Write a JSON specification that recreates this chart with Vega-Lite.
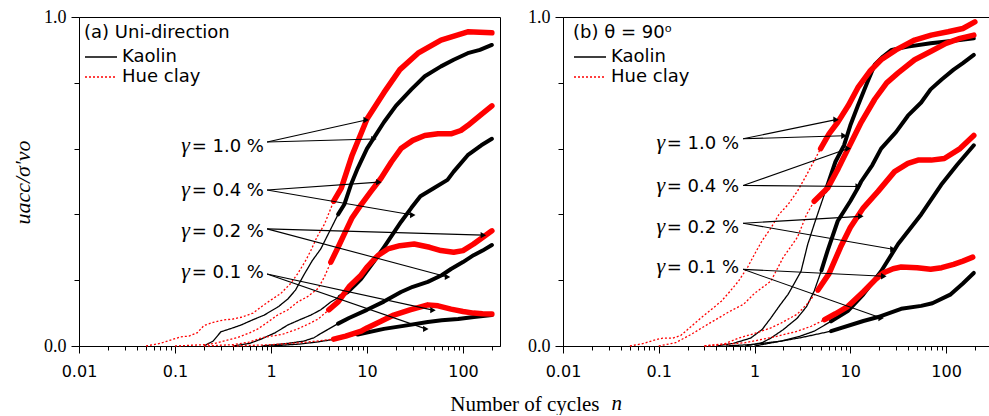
{
"$schema": "https://vega.github.io/schema/vega-lite/v6.json",
"background": "white",
"padding": {"left": 10, "top": 7, "right": 0, "bottom": 0},
"datasets": {
"curves": [
{"p":"a","clay":"Kaolin","g":"1.0","n":0.2,"v":0},{"p":"a","clay":"Kaolin","g":"1.0","n":0.25,"v":0.015},{"p":"a","clay":"Kaolin","g":"1.0","n":0.3,"v":0.043},{"p":"a","clay":"Kaolin","g":"1.0","n":0.4,"v":0.055},{"p":"a","clay":"Kaolin","g":"1.0","n":0.49,"v":0.064},{"p":"a","clay":"Kaolin","g":"1.0","n":0.65,"v":0.08},{"p":"a","clay":"Kaolin","g":"1.0","n":0.85,"v":0.094},{"p":"a","clay":"Kaolin","g":"1.0","n":1.2,"v":0.12},{"p":"a","clay":"Kaolin","g":"1.0","n":1.5,"v":0.143},{"p":"a","clay":"Kaolin","g":"1.0","n":1.8,"v":0.17},{"p":"a","clay":"Kaolin","g":"1.0","n":2.2,"v":0.216},{"p":"a","clay":"Kaolin","g":"1.0","n":2.7,"v":0.26},{"p":"a","clay":"Kaolin","g":"1.0","n":3.3,"v":0.295},{"p":"a","clay":"Kaolin","g":"1.0","n":4.2,"v":0.356},{"p":"a","clay":"Kaolin","g":"1.0","n":5,"v":0.4},{"p":"a","clay":"Kaolin","g":"1.0","n":5.8,"v":0.43},{"p":"a","clay":"Kaolin","g":"1.0","n":6.8,"v":0.49},{"p":"a","clay":"Kaolin","g":"1.0","n":8,"v":0.54},{"p":"a","clay":"Kaolin","g":"1.0","n":10,"v":0.6},{"p":"a","clay":"Kaolin","g":"1.0","n":15,"v":0.68},{"p":"a","clay":"Kaolin","g":"1.0","n":20,"v":0.73},{"p":"a","clay":"Kaolin","g":"1.0","n":29,"v":0.78},{"p":"a","clay":"Kaolin","g":"1.0","n":40,"v":0.82},{"p":"a","clay":"Kaolin","g":"1.0","n":59,"v":0.85},{"p":"a","clay":"Kaolin","g":"1.0","n":80,"v":0.87},{"p":"a","clay":"Kaolin","g":"1.0","n":112,"v":0.89},{"p":"a","clay":"Kaolin","g":"1.0","n":150,"v":0.9},{"p":"a","clay":"Kaolin","g":"1.0","n":200,"v":0.915},
{"p":"a","clay":"Hue clay","g":"1.0","n":0.05,"v":0},{"p":"a","clay":"Hue clay","g":"1.0","n":0.07,"v":0.008},{"p":"a","clay":"Hue clay","g":"1.0","n":0.09,"v":0.018},{"p":"a","clay":"Hue clay","g":"1.0","n":0.115,"v":0.028},{"p":"a","clay":"Hue clay","g":"1.0","n":0.14,"v":0.03},{"p":"a","clay":"Hue clay","g":"1.0","n":0.17,"v":0.04},{"p":"a","clay":"Hue clay","g":"1.0","n":0.2,"v":0.062},{"p":"a","clay":"Hue clay","g":"1.0","n":0.25,"v":0.072},{"p":"a","clay":"Hue clay","g":"1.0","n":0.32,"v":0.079},{"p":"a","clay":"Hue clay","g":"1.0","n":0.4,"v":0.082},{"p":"a","clay":"Hue clay","g":"1.0","n":0.5,"v":0.088},{"p":"a","clay":"Hue clay","g":"1.0","n":0.65,"v":0.1},{"p":"a","clay":"Hue clay","g":"1.0","n":0.8,"v":0.12},{"p":"a","clay":"Hue clay","g":"1.0","n":1,"v":0.14},{"p":"a","clay":"Hue clay","g":"1.0","n":1.27,"v":0.16},{"p":"a","clay":"Hue clay","g":"1.0","n":1.6,"v":0.19},{"p":"a","clay":"Hue clay","g":"1.0","n":1.9,"v":0.22},{"p":"a","clay":"Hue clay","g":"1.0","n":2.3,"v":0.26},{"p":"a","clay":"Hue clay","g":"1.0","n":2.6,"v":0.29},{"p":"a","clay":"Hue clay","g":"1.0","n":3,"v":0.33},{"p":"a","clay":"Hue clay","g":"1.0","n":3.6,"v":0.37},{"p":"a","clay":"Hue clay","g":"1.0","n":4.5,"v":0.44},{"p":"a","clay":"Hue clay","g":"1.0","n":5.4,"v":0.48},{"p":"a","clay":"Hue clay","g":"1.0","n":7,"v":0.58},{"p":"a","clay":"Hue clay","g":"1.0","n":10,"v":0.69},{"p":"a","clay":"Hue clay","g":"1.0","n":15,"v":0.77},{"p":"a","clay":"Hue clay","g":"1.0","n":22,"v":0.84},{"p":"a","clay":"Hue clay","g":"1.0","n":34,"v":0.89},{"p":"a","clay":"Hue clay","g":"1.0","n":59,"v":0.93},{"p":"a","clay":"Hue clay","g":"1.0","n":112,"v":0.955},{"p":"a","clay":"Hue clay","g":"1.0","n":200,"v":0.952},
{"p":"a","clay":"Kaolin","g":"0.4","n":0.4,"v":0},{"p":"a","clay":"Kaolin","g":"0.4","n":0.6,"v":0.008},{"p":"a","clay":"Kaolin","g":"0.4","n":0.79,"v":0.021},{"p":"a","clay":"Kaolin","g":"0.4","n":1.1,"v":0.04},{"p":"a","clay":"Kaolin","g":"0.4","n":1.5,"v":0.064},{"p":"a","clay":"Kaolin","g":"0.4","n":2,"v":0.08},{"p":"a","clay":"Kaolin","g":"0.4","n":2.6,"v":0.094},{"p":"a","clay":"Kaolin","g":"0.4","n":3.3,"v":0.11},{"p":"a","clay":"Kaolin","g":"0.4","n":4.2,"v":0.134},{"p":"a","clay":"Kaolin","g":"0.4","n":5.2,"v":0.15},{"p":"a","clay":"Kaolin","g":"0.4","n":6.3,"v":0.164},{"p":"a","clay":"Kaolin","g":"0.4","n":7.5,"v":0.185},{"p":"a","clay":"Kaolin","g":"0.4","n":8.7,"v":0.204},{"p":"a","clay":"Kaolin","g":"0.4","n":11.7,"v":0.255},{"p":"a","clay":"Kaolin","g":"0.4","n":15,"v":0.3},{"p":"a","clay":"Kaolin","g":"0.4","n":22.6,"v":0.377},{"p":"a","clay":"Kaolin","g":"0.4","n":29,"v":0.42},{"p":"a","clay":"Kaolin","g":"0.4","n":36,"v":0.455},{"p":"a","clay":"Kaolin","g":"0.4","n":50,"v":0.48},{"p":"a","clay":"Kaolin","g":"0.4","n":69,"v":0.505},{"p":"a","clay":"Kaolin","g":"0.4","n":80,"v":0.53},{"p":"a","clay":"Kaolin","g":"0.4","n":112,"v":0.58},{"p":"a","clay":"Kaolin","g":"0.4","n":155,"v":0.61},{"p":"a","clay":"Kaolin","g":"0.4","n":200,"v":0.63},
{"p":"a","clay":"Hue clay","g":"0.4","n":0.1,"v":0},{"p":"a","clay":"Hue clay","g":"0.4","n":0.2,"v":0.004},{"p":"a","clay":"Hue clay","g":"0.4","n":0.26,"v":0.008},{"p":"a","clay":"Hue clay","g":"0.4","n":0.35,"v":0.018},{"p":"a","clay":"Hue clay","g":"0.4","n":0.46,"v":0.027},{"p":"a","clay":"Hue clay","g":"0.4","n":0.6,"v":0.04},{"p":"a","clay":"Hue clay","g":"0.4","n":0.73,"v":0.052},{"p":"a","clay":"Hue clay","g":"0.4","n":0.9,"v":0.07},{"p":"a","clay":"Hue clay","g":"0.4","n":1.17,"v":0.094},{"p":"a","clay":"Hue clay","g":"0.4","n":1.5,"v":0.11},{"p":"a","clay":"Hue clay","g":"0.4","n":1.9,"v":0.134},{"p":"a","clay":"Hue clay","g":"0.4","n":2.4,"v":0.15},{"p":"a","clay":"Hue clay","g":"0.4","n":3.1,"v":0.175},{"p":"a","clay":"Hue clay","g":"0.4","n":3.6,"v":0.21},{"p":"a","clay":"Hue clay","g":"0.4","n":4.2,"v":0.255},{"p":"a","clay":"Hue clay","g":"0.4","n":5,"v":0.3},{"p":"a","clay":"Hue clay","g":"0.4","n":5.8,"v":0.34},{"p":"a","clay":"Hue clay","g":"0.4","n":7,"v":0.39},{"p":"a","clay":"Hue clay","g":"0.4","n":8.7,"v":0.43},{"p":"a","clay":"Hue clay","g":"0.4","n":11,"v":0.47},{"p":"a","clay":"Hue clay","g":"0.4","n":14,"v":0.51},{"p":"a","clay":"Hue clay","g":"0.4","n":18,"v":0.56},{"p":"a","clay":"Hue clay","g":"0.4","n":22.6,"v":0.6},{"p":"a","clay":"Hue clay","g":"0.4","n":30,"v":0.625},{"p":"a","clay":"Hue clay","g":"0.4","n":40,"v":0.64},{"p":"a","clay":"Hue clay","g":"0.4","n":55,"v":0.645},{"p":"a","clay":"Hue clay","g":"0.4","n":75,"v":0.645},{"p":"a","clay":"Hue clay","g":"0.4","n":95,"v":0.655},{"p":"a","clay":"Hue clay","g":"0.4","n":112,"v":0.67},{"p":"a","clay":"Hue clay","g":"0.4","n":150,"v":0.7},{"p":"a","clay":"Hue clay","g":"0.4","n":200,"v":0.73},
{"p":"a","clay":"Kaolin","g":"0.2","n":0.8,"v":0},{"p":"a","clay":"Kaolin","g":"0.2","n":1.5,"v":0.008},{"p":"a","clay":"Kaolin","g":"0.2","n":2.2,"v":0.015},{"p":"a","clay":"Kaolin","g":"0.2","n":2.8,"v":0.025},{"p":"a","clay":"Kaolin","g":"0.2","n":3.3,"v":0.038},{"p":"a","clay":"Kaolin","g":"0.2","n":3.9,"v":0.05},{"p":"a","clay":"Kaolin","g":"0.2","n":5,"v":0.068},{"p":"a","clay":"Kaolin","g":"0.2","n":6.5,"v":0.085},{"p":"a","clay":"Kaolin","g":"0.2","n":10,"v":0.11},{"p":"a","clay":"Kaolin","g":"0.2","n":15,"v":0.135},{"p":"a","clay":"Kaolin","g":"0.2","n":22.6,"v":0.164},{"p":"a","clay":"Kaolin","g":"0.2","n":30,"v":0.18},{"p":"a","clay":"Kaolin","g":"0.2","n":43,"v":0.195},{"p":"a","clay":"Kaolin","g":"0.2","n":60,"v":0.215},{"p":"a","clay":"Kaolin","g":"0.2","n":75,"v":0.234},{"p":"a","clay":"Kaolin","g":"0.2","n":100,"v":0.255},{"p":"a","clay":"Kaolin","g":"0.2","n":129,"v":0.276},{"p":"a","clay":"Kaolin","g":"0.2","n":160,"v":0.29},{"p":"a","clay":"Kaolin","g":"0.2","n":200,"v":0.307},
{"p":"a","clay":"Hue clay","g":"0.2","n":0.2,"v":0},{"p":"a","clay":"Hue clay","g":"0.2","n":0.4,"v":0.004},{"p":"a","clay":"Hue clay","g":"0.2","n":0.6,"v":0.012},{"p":"a","clay":"Hue clay","g":"0.2","n":0.8,"v":0.025},{"p":"a","clay":"Hue clay","g":"0.2","n":1,"v":0.03},{"p":"a","clay":"Hue clay","g":"0.2","n":1.3,"v":0.035},{"p":"a","clay":"Hue clay","g":"0.2","n":1.9,"v":0.052},{"p":"a","clay":"Hue clay","g":"0.2","n":2.5,"v":0.068},{"p":"a","clay":"Hue clay","g":"0.2","n":3.1,"v":0.082},{"p":"a","clay":"Hue clay","g":"0.2","n":4,"v":0.11},{"p":"a","clay":"Hue clay","g":"0.2","n":5,"v":0.134},{"p":"a","clay":"Hue clay","g":"0.2","n":6.5,"v":0.18},{"p":"a","clay":"Hue clay","g":"0.2","n":8.7,"v":0.216},{"p":"a","clay":"Hue clay","g":"0.2","n":10,"v":0.24},{"p":"a","clay":"Hue clay","g":"0.2","n":13,"v":0.275},{"p":"a","clay":"Hue clay","g":"0.2","n":16.5,"v":0.295},{"p":"a","clay":"Hue clay","g":"0.2","n":22,"v":0.305},{"p":"a","clay":"Hue clay","g":"0.2","n":31,"v":0.31},{"p":"a","clay":"Hue clay","g":"0.2","n":45,"v":0.3},{"p":"a","clay":"Hue clay","g":"0.2","n":59,"v":0.29},{"p":"a","clay":"Hue clay","g":"0.2","n":80,"v":0.285},{"p":"a","clay":"Hue clay","g":"0.2","n":100,"v":0.29},{"p":"a","clay":"Hue clay","g":"0.2","n":129,"v":0.31},{"p":"a","clay":"Hue clay","g":"0.2","n":160,"v":0.33},{"p":"a","clay":"Hue clay","g":"0.2","n":200,"v":0.35},
{"p":"a","clay":"Kaolin","g":"0.1","n":1,"v":0},{"p":"a","clay":"Kaolin","g":"0.1","n":2,"v":0.006},{"p":"a","clay":"Kaolin","g":"0.1","n":3,"v":0.012},{"p":"a","clay":"Kaolin","g":"0.1","n":4.5,"v":0.02},{"p":"a","clay":"Kaolin","g":"0.1","n":8,"v":0.035},{"p":"a","clay":"Kaolin","g":"0.1","n":15,"v":0.052},{"p":"a","clay":"Kaolin","g":"0.1","n":25,"v":0.062},{"p":"a","clay":"Kaolin","g":"0.1","n":43,"v":0.073},{"p":"a","clay":"Kaolin","g":"0.1","n":60,"v":0.078},{"p":"a","clay":"Kaolin","g":"0.1","n":89,"v":0.082},{"p":"a","clay":"Kaolin","g":"0.1","n":130,"v":0.088},{"p":"a","clay":"Kaolin","g":"0.1","n":200,"v":0.094},
{"p":"a","clay":"Hue clay","g":"0.1","n":0.4,"v":0},{"p":"a","clay":"Hue clay","g":"0.1","n":1,"v":0.004},{"p":"a","clay":"Hue clay","g":"0.1","n":2,"v":0.01},{"p":"a","clay":"Hue clay","g":"0.1","n":3,"v":0.015},{"p":"a","clay":"Hue clay","g":"0.1","n":4.5,"v":0.021},{"p":"a","clay":"Hue clay","g":"0.1","n":6,"v":0.03},{"p":"a","clay":"Hue clay","g":"0.1","n":8.7,"v":0.045},{"p":"a","clay":"Hue clay","g":"0.1","n":10,"v":0.055},{"p":"a","clay":"Hue clay","g":"0.1","n":14,"v":0.075},{"p":"a","clay":"Hue clay","g":"0.1","n":19,"v":0.094},{"p":"a","clay":"Hue clay","g":"0.1","n":28,"v":0.11},{"p":"a","clay":"Hue clay","g":"0.1","n":43,"v":0.125},{"p":"a","clay":"Hue clay","g":"0.1","n":55,"v":0.122},{"p":"a","clay":"Hue clay","g":"0.1","n":75,"v":0.112},{"p":"a","clay":"Hue clay","g":"0.1","n":100,"v":0.105},{"p":"a","clay":"Hue clay","g":"0.1","n":129,"v":0.1},{"p":"a","clay":"Hue clay","g":"0.1","n":160,"v":0.098},{"p":"a","clay":"Hue clay","g":"0.1","n":200,"v":0.097},
{"p":"b","clay":"Kaolin","g":"1.0","n":0.4,"v":0},{"p":"b","clay":"Kaolin","g":"1.0","n":0.6,"v":0.008},{"p":"b","clay":"Kaolin","g":"1.0","n":0.91,"v":0.024},{"p":"b","clay":"Kaolin","g":"1.0","n":1.2,"v":0.05},{"p":"b","clay":"Kaolin","g":"1.0","n":1.48,"v":0.085},{"p":"b","clay":"Kaolin","g":"1.0","n":1.8,"v":0.12},{"p":"b","clay":"Kaolin","g":"1.0","n":2.24,"v":0.157},{"p":"b","clay":"Kaolin","g":"1.0","n":2.6,"v":0.19},{"p":"b","clay":"Kaolin","g":"1.0","n":3.06,"v":0.227},{"p":"b","clay":"Kaolin","g":"1.0","n":3.6,"v":0.31},{"p":"b","clay":"Kaolin","g":"1.0","n":4.2,"v":0.37},{"p":"b","clay":"Kaolin","g":"1.0","n":4.8,"v":0.42},{"p":"b","clay":"Kaolin","g":"1.0","n":5.5,"v":0.47},{"p":"b","clay":"Kaolin","g":"1.0","n":7,"v":0.56},{"p":"b","clay":"Kaolin","g":"1.0","n":8.6,"v":0.61},{"p":"b","clay":"Kaolin","g":"1.0","n":10,"v":0.67},{"p":"b","clay":"Kaolin","g":"1.0","n":12,"v":0.73},{"p":"b","clay":"Kaolin","g":"1.0","n":15,"v":0.8},{"p":"b","clay":"Kaolin","g":"1.0","n":18,"v":0.855},{"p":"b","clay":"Kaolin","g":"1.0","n":22,"v":0.88},{"p":"b","clay":"Kaolin","g":"1.0","n":27,"v":0.9},{"p":"b","clay":"Kaolin","g":"1.0","n":40,"v":0.91},{"p":"b","clay":"Kaolin","g":"1.0","n":69,"v":0.92},{"p":"b","clay":"Kaolin","g":"1.0","n":120,"v":0.928},{"p":"b","clay":"Kaolin","g":"1.0","n":195,"v":0.935},
{"p":"b","clay":"Hue clay","g":"1.0","n":0.05,"v":0},{"p":"b","clay":"Hue clay","g":"1.0","n":0.07,"v":0.008},{"p":"b","clay":"Hue clay","g":"1.0","n":0.09,"v":0.018},{"p":"b","clay":"Hue clay","g":"1.0","n":0.11,"v":0.024},{"p":"b","clay":"Hue clay","g":"1.0","n":0.14,"v":0.024},{"p":"b","clay":"Hue clay","g":"1.0","n":0.17,"v":0.032},{"p":"b","clay":"Hue clay","g":"1.0","n":0.2,"v":0.05},{"p":"b","clay":"Hue clay","g":"1.0","n":0.275,"v":0.085},{"p":"b","clay":"Hue clay","g":"1.0","n":0.35,"v":0.11},{"p":"b","clay":"Hue clay","g":"1.0","n":0.45,"v":0.136},{"p":"b","clay":"Hue clay","g":"1.0","n":0.55,"v":0.165},{"p":"b","clay":"Hue clay","g":"1.0","n":0.68,"v":0.197},{"p":"b","clay":"Hue clay","g":"1.0","n":0.85,"v":0.24},{"p":"b","clay":"Hue clay","g":"1.0","n":1,"v":0.279},{"p":"b","clay":"Hue clay","g":"1.0","n":1.2,"v":0.32},{"p":"b","clay":"Hue clay","g":"1.0","n":1.48,"v":0.358},{"p":"b","clay":"Hue clay","g":"1.0","n":1.8,"v":0.4},{"p":"b","clay":"Hue clay","g":"1.0","n":2.24,"v":0.43},{"p":"b","clay":"Hue clay","g":"1.0","n":2.8,"v":0.47},{"p":"b","clay":"Hue clay","g":"1.0","n":3.5,"v":0.52},{"p":"b","clay":"Hue clay","g":"1.0","n":4.9,"v":0.6},{"p":"b","clay":"Hue clay","g":"1.0","n":6,"v":0.645},{"p":"b","clay":"Hue clay","g":"1.0","n":7.4,"v":0.68},{"p":"b","clay":"Hue clay","g":"1.0","n":9.5,"v":0.73},{"p":"b","clay":"Hue clay","g":"1.0","n":12,"v":0.785},{"p":"b","clay":"Hue clay","g":"1.0","n":16,"v":0.835},{"p":"b","clay":"Hue clay","g":"1.0","n":21,"v":0.87},{"p":"b","clay":"Hue clay","g":"1.0","n":30,"v":0.9},{"p":"b","clay":"Hue clay","g":"1.0","n":47,"v":0.93},{"p":"b","clay":"Hue clay","g":"1.0","n":70,"v":0.945},{"p":"b","clay":"Hue clay","g":"1.0","n":105,"v":0.955},{"p":"b","clay":"Hue clay","g":"1.0","n":150,"v":0.965},{"p":"b","clay":"Hue clay","g":"1.0","n":200,"v":0.985},
{"p":"b","clay":"Kaolin","g":"0.4","n":0.8,"v":0},{"p":"b","clay":"Kaolin","g":"0.4","n":1.2,"v":0.01},{"p":"b","clay":"Kaolin","g":"0.4","n":1.48,"v":0.024},{"p":"b","clay":"Kaolin","g":"0.4","n":2,"v":0.05},{"p":"b","clay":"Kaolin","g":"0.4","n":2.8,"v":0.085},{"p":"b","clay":"Kaolin","g":"0.4","n":3.5,"v":0.12},{"p":"b","clay":"Kaolin","g":"0.4","n":4.2,"v":0.167},{"p":"b","clay":"Kaolin","g":"0.4","n":5,"v":0.23},{"p":"b","clay":"Kaolin","g":"0.4","n":5.8,"v":0.29},{"p":"b","clay":"Kaolin","g":"0.4","n":7.4,"v":0.38},{"p":"b","clay":"Kaolin","g":"0.4","n":10,"v":0.44},{"p":"b","clay":"Kaolin","g":"0.4","n":12,"v":0.48},{"p":"b","clay":"Kaolin","g":"0.4","n":13,"v":0.5},{"p":"b","clay":"Kaolin","g":"0.4","n":17,"v":0.55},{"p":"b","clay":"Kaolin","g":"0.4","n":21,"v":0.6},{"p":"b","clay":"Kaolin","g":"0.4","n":30,"v":0.65},{"p":"b","clay":"Kaolin","g":"0.4","n":40,"v":0.7},{"p":"b","clay":"Kaolin","g":"0.4","n":55,"v":0.74},{"p":"b","clay":"Kaolin","g":"0.4","n":69,"v":0.78},{"p":"b","clay":"Kaolin","g":"0.4","n":90,"v":0.81},{"p":"b","clay":"Kaolin","g":"0.4","n":120,"v":0.84},{"p":"b","clay":"Kaolin","g":"0.4","n":150,"v":0.86},{"p":"b","clay":"Kaolin","g":"0.4","n":195,"v":0.885},
{"p":"b","clay":"Hue clay","g":"0.4","n":0.1,"v":0},{"p":"b","clay":"Hue clay","g":"0.4","n":0.15,"v":0.01},{"p":"b","clay":"Hue clay","g":"0.4","n":0.22,"v":0.036},{"p":"b","clay":"Hue clay","g":"0.4","n":0.3,"v":0.06},{"p":"b","clay":"Hue clay","g":"0.4","n":0.42,"v":0.085},{"p":"b","clay":"Hue clay","g":"0.4","n":0.55,"v":0.105},{"p":"b","clay":"Hue clay","g":"0.4","n":0.77,"v":0.127},{"p":"b","clay":"Hue clay","g":"0.4","n":1,"v":0.16},{"p":"b","clay":"Hue clay","g":"0.4","n":1.48,"v":0.197},{"p":"b","clay":"Hue clay","g":"0.4","n":2,"v":0.27},{"p":"b","clay":"Hue clay","g":"0.4","n":2.8,"v":0.33},{"p":"b","clay":"Hue clay","g":"0.4","n":3.5,"v":0.4},{"p":"b","clay":"Hue clay","g":"0.4","n":4.2,"v":0.44},{"p":"b","clay":"Hue clay","g":"0.4","n":5.8,"v":0.48},{"p":"b","clay":"Hue clay","g":"0.4","n":7.5,"v":0.54},{"p":"b","clay":"Hue clay","g":"0.4","n":9.5,"v":0.6},{"p":"b","clay":"Hue clay","g":"0.4","n":13,"v":0.68},{"p":"b","clay":"Hue clay","g":"0.4","n":18,"v":0.75},{"p":"b","clay":"Hue clay","g":"0.4","n":24,"v":0.8},{"p":"b","clay":"Hue clay","g":"0.4","n":31.6,"v":0.83},{"p":"b","clay":"Hue clay","g":"0.4","n":47,"v":0.87},{"p":"b","clay":"Hue clay","g":"0.4","n":69,"v":0.895},{"p":"b","clay":"Hue clay","g":"0.4","n":100,"v":0.92},{"p":"b","clay":"Hue clay","g":"0.4","n":140,"v":0.935},{"p":"b","clay":"Hue clay","g":"0.4","n":195,"v":0.945},
{"p":"b","clay":"Kaolin","g":"0.2","n":1,"v":0},{"p":"b","clay":"Kaolin","g":"0.2","n":1.9,"v":0.015},{"p":"b","clay":"Kaolin","g":"0.2","n":3,"v":0.03},{"p":"b","clay":"Kaolin","g":"0.2","n":4.2,"v":0.045},{"p":"b","clay":"Kaolin","g":"0.2","n":6.3,"v":0.075},{"p":"b","clay":"Kaolin","g":"0.2","n":9.4,"v":0.106},{"p":"b","clay":"Kaolin","g":"0.2","n":13.7,"v":0.157},{"p":"b","clay":"Kaolin","g":"0.2","n":21,"v":0.227},{"p":"b","clay":"Kaolin","g":"0.2","n":31.6,"v":0.31},{"p":"b","clay":"Kaolin","g":"0.2","n":55,"v":0.4},{"p":"b","clay":"Kaolin","g":"0.2","n":89,"v":0.49},{"p":"b","clay":"Kaolin","g":"0.2","n":130,"v":0.55},{"p":"b","clay":"Kaolin","g":"0.2","n":195,"v":0.61},
{"p":"b","clay":"Hue clay","g":"0.2","n":0.3,"v":0},{"p":"b","clay":"Hue clay","g":"0.2","n":0.5,"v":0.008},{"p":"b","clay":"Hue clay","g":"0.2","n":0.68,"v":0.024},{"p":"b","clay":"Hue clay","g":"0.2","n":1,"v":0.038},{"p":"b","clay":"Hue clay","g":"0.2","n":1.48,"v":0.055},{"p":"b","clay":"Hue clay","g":"0.2","n":1.9,"v":0.07},{"p":"b","clay":"Hue clay","g":"0.2","n":2.8,"v":0.097},{"p":"b","clay":"Hue clay","g":"0.2","n":3.6,"v":0.13},{"p":"b","clay":"Hue clay","g":"0.2","n":4.6,"v":0.17},{"p":"b","clay":"Hue clay","g":"0.2","n":6,"v":0.22},{"p":"b","clay":"Hue clay","g":"0.2","n":7.9,"v":0.3},{"p":"b","clay":"Hue clay","g":"0.2","n":10,"v":0.36},{"p":"b","clay":"Hue clay","g":"0.2","n":13.7,"v":0.42},{"p":"b","clay":"Hue clay","g":"0.2","n":19.5,"v":0.47},{"p":"b","clay":"Hue clay","g":"0.2","n":29,"v":0.53},{"p":"b","clay":"Hue clay","g":"0.2","n":40,"v":0.555},{"p":"b","clay":"Hue clay","g":"0.2","n":51,"v":0.565},{"p":"b","clay":"Hue clay","g":"0.2","n":70,"v":0.565},{"p":"b","clay":"Hue clay","g":"0.2","n":96,"v":0.57},{"p":"b","clay":"Hue clay","g":"0.2","n":140,"v":0.6},{"p":"b","clay":"Hue clay","g":"0.2","n":195,"v":0.64},
{"p":"b","clay":"Kaolin","g":"0.1","n":0.5,"v":0},{"p":"b","clay":"Kaolin","g":"0.1","n":1,"v":0.005},{"p":"b","clay":"Kaolin","g":"0.1","n":1.9,"v":0.015},{"p":"b","clay":"Kaolin","g":"0.1","n":3,"v":0.025},{"p":"b","clay":"Kaolin","g":"0.1","n":6.3,"v":0.045},{"p":"b","clay":"Kaolin","g":"0.1","n":13.7,"v":0.076},{"p":"b","clay":"Kaolin","g":"0.1","n":19.5,"v":0.088},{"p":"b","clay":"Kaolin","g":"0.1","n":34,"v":0.113},{"p":"b","clay":"Kaolin","g":"0.1","n":55,"v":0.122},{"p":"b","clay":"Kaolin","g":"0.1","n":72,"v":0.13},{"p":"b","clay":"Kaolin","g":"0.1","n":112,"v":0.157},{"p":"b","clay":"Kaolin","g":"0.1","n":150,"v":0.19},{"p":"b","clay":"Kaolin","g":"0.1","n":195,"v":0.222},
{"p":"b","clay":"Hue clay","g":"0.1","n":0.3,"v":0},{"p":"b","clay":"Hue clay","g":"0.1","n":0.8,"v":0.01},{"p":"b","clay":"Hue clay","g":"0.1","n":1.76,"v":0.03},{"p":"b","clay":"Hue clay","g":"0.1","n":2.8,"v":0.045},{"p":"b","clay":"Hue clay","g":"0.1","n":3.9,"v":0.06},{"p":"b","clay":"Hue clay","g":"0.1","n":5.4,"v":0.08},{"p":"b","clay":"Hue clay","g":"0.1","n":7,"v":0.098},{"p":"b","clay":"Hue clay","g":"0.1","n":9.4,"v":0.12},{"p":"b","clay":"Hue clay","g":"0.1","n":13.7,"v":0.165},{"p":"b","clay":"Hue clay","g":"0.1","n":18,"v":0.2},{"p":"b","clay":"Hue clay","g":"0.1","n":22,"v":0.222},{"p":"b","clay":"Hue clay","g":"0.1","n":28,"v":0.235},{"p":"b","clay":"Hue clay","g":"0.1","n":34,"v":0.24},{"p":"b","clay":"Hue clay","g":"0.1","n":50,"v":0.238},{"p":"b","clay":"Hue clay","g":"0.1","n":69,"v":0.233},{"p":"b","clay":"Hue clay","g":"0.1","n":90,"v":0.238},{"p":"b","clay":"Hue clay","g":"0.1","n":120,"v":0.248},{"p":"b","clay":"Hue clay","g":"0.1","n":150,"v":0.258},{"p":"b","clay":"Hue clay","g":"0.1","n":190,"v":0.27}
],
"arrows": [
{"p":"a","x1":0.91,"y1":0.62,"x2":9.8,"y2":0.687},
{"p":"a","x1":0.91,"y1":0.62,"x2":11.8,"y2":0.629},
{"p":"a","x1":0.91,"y1":0.474,"x2":13.3,"y2":0.498},
{"p":"a","x1":0.91,"y1":0.474,"x2":30,"y2":0.398},
{"p":"a","x1":0.91,"y1":0.356,"x2":163,"y2":0.337},
{"p":"a","x1":0.91,"y1":0.356,"x2":69,"y2":0.21},
{"p":"a","x1":0.91,"y1":0.219,"x2":48.7,"y2":0.109},
{"p":"a","x1":0.91,"y1":0.219,"x2":41,"y2":0.052},
{"p":"b","x1":0.76,"y1":0.63,"x2":7.1,"y2":0.688},
{"p":"b","x1":0.76,"y1":0.63,"x2":8.6,"y2":0.639},
{"p":"b","x1":0.76,"y1":0.488,"x2":12.1,"y2":0.485},
{"p":"b","x1":0.76,"y1":0.488,"x2":9.5,"y2":0.6},
{"p":"b","x1":0.76,"y1":0.373,"x2":12.9,"y2":0.394},
{"p":"b","x1":0.76,"y1":0.373,"x2":27.9,"y2":0.294},
{"p":"b","x1":0.76,"y1":0.233,"x2":22.4,"y2":0.212},
{"p":"b","x1":0.76,"y1":0.233,"x2":21,"y2":0.085}
],
"labels": [
{"p":"a","x":0.845,"y":0.59,"t":"= 1.0 %"},
{"p":"a","x":0.845,"y":0.456,"t":"= 0.4 %"},
{"p":"a","x":0.845,"y":0.331,"t":"= 0.2 %"},
{"p":"a","x":0.845,"y":0.207,"t":"= 0.1 %"},
{"p":"b","x":0.69,"y":0.6,"t":"= 1.0 %"},
{"p":"b","x":0.69,"y":0.467,"t":"= 0.4 %"},
{"p":"b","x":0.69,"y":0.342,"t":"= 0.2 %"},
{"p":"b","x":0.69,"y":0.221,"t":"= 0.1 %"}
]
},
"hconcat": [
{
"width": 421, "height": 329,
"layer": [
{
"data": {"name": "curves"},
"transform": [{"filter": "datum.p === 'a'"}],
"encoding": {
"x": {"field": "n", "type": "quantitative", "scale": {"type": "log", "domain": [0.01, 243], "nice": false},
 "axis": {"values": [0.01,0.02,0.03,0.04,0.05,0.06,0.07,0.08,0.09,0.1,0.2,0.3,0.4,0.5,0.6,0.7,0.8,0.9,1,2,3,4,5,6,7,8,9,10,20,30,40,50,60,70,80,90,100,200],
  "labelExpr": "datum.value == 0.01 ? '0.01' : datum.value == 0.1 ? '0.1' : datum.value == 1 ? '1' : datum.value == 10 ? '10' : datum.value == 100 ? '100' : ''",
  "tickSize": {"condition": {"test": "datum.value == 0.01 || datum.value == 0.1 || datum.value == 1 || datum.value == 10 || datum.value == 100", "value": 7}, "value": 4},
  "labelFont": "DejaVu Sans", "labelFontSize": 16, "labelPadding": 10,
  "title": "Number of cycles", "titleFont": "Liberation Serif", "titleFontSize": 21, "titleFontWeight": "normal",
  "titleX": 520, "titleY": 64, "titleAlign": "right", "titleBaseline": "alphabetic"}},
"y": {"field": "v", "type": "quantitative", "scale": {"domain": [0, 1], "nice": false},
 "axis": {"values": [0,0.1,0.2,0.3,0.4,0.5,0.6,0.7,0.8,0.9,1],
  "labelExpr": "datum.value == 0 ? '0.0' : datum.value == 0.5 ? '0.5' : datum.value == 1 ? '1.0' : ''",
  "tickSize": {"condition": {"test": "datum.value == 0 || datum.value == 0.5 || datum.value == 1", "value": 8}, "value": 5},
  "labelFont": "Liberation Serif", "labelFontSize": 18, "labelPadding": 5,
  "title": "uacc/σ′vo", "titleFont": "Liberation Serif", "titleFontStyle": "italic", "titleFontSize": 22, "titleFontWeight": "normal",
  "titleX": -50, "titleY": 165, "titleAngle": -90, "titleAlign": "center", "titleBaseline": "alphabetic"}},
"color": {"field": "clay", "type": "nominal", "scale": {"domain": ["Kaolin", "Hue clay"], "range": ["#000000", "#ff0000"]},
 "legend": {"title": "(a) Uni-direction", "orient": "none", "legendX": 5, "legendY": 7}},
"detail": {"field": "g"}
},
"layer": [
{"mark": {"type": "line", "strokeWidth": 1.3},
 "encoding": {"strokeDash": {"field": "clay", "type": "nominal", "scale": {"domain": ["Kaolin", "Hue clay"], "range": [[1, 0], [2, 2]]},
  "legend": {"title": "(a) Uni-direction", "orient": "none", "legendX": 5, "legendY": 7}}}},
{"transform": [{"filter": "datum.n >= 5 && datum.clay === 'Kaolin'"}], "mark": {"type": "line", "strokeWidth": 4, "strokeCap": "round", "strokeJoin": "round"}},
{"transform": [{"filter": "datum.n >= 4 && datum.clay === 'Hue clay'"}], "mark": {"type": "line", "strokeWidth": 5.5, "strokeCap": "round", "strokeJoin": "round"}}
]
},
{"data": {"name": "arrows"}, "transform": [{"filter": "datum.p === 'a'"}],
 "mark": {"type": "rule", "color": "#000000", "strokeWidth": 1.1},
 "encoding": {"x": {"field": "x1", "type": "quantitative"}, "y": {"field": "y1", "type": "quantitative"}, "x2": {"field": "x2"}, "y2": {"field": "y2"}}},
{"data": {"name": "arrows"}, "transform": [{"filter": "datum.p === 'a'"}],
 "mark": {"type": "point", "shape": "triangle-right", "size": 40, "filled": true, "color": "#000000", "opacity": 1},
 "encoding": {"x": {"field": "x2", "type": "quantitative"}, "y": {"field": "y2", "type": "quantitative"}}},
{"data": {"name": "labels"}, "transform": [{"filter": "datum.p === 'a'"}],
 "mark": {"type": "text", "align": "right", "baseline": "alphabetic", "font": "DejaVu Sans", "fontSize": 18, "color": "#000000"},
 "encoding": {"x": {"field": "x", "type": "quantitative"}, "y": {"field": "y", "type": "quantitative"}, "text": {"field": "t"}}},
{"data": {"name": "labels"}, "transform": [{"filter": "datum.p === 'a'"}],
 "mark": {"type": "text", "text": "γ", "align": "right", "baseline": "alphabetic", "dx": -74, "font": "Liberation Serif", "fontStyle": "italic", "fontSize": 22, "color": "#000000"},
 "encoding": {"x": {"field": "x", "type": "quantitative"}, "y": {"field": "y", "type": "quantitative"}}}
]
},
{
"width": 426, "height": 329,
"layer": [
{
"data": {"name": "curves"},
"transform": [{"filter": "datum.p === 'b'"}],
"encoding": {
"x": {"field": "n", "type": "quantitative", "scale": {"type": "log", "domain": [0.01, 281], "nice": false},
 "axis": {"values": [0.01,0.02,0.03,0.04,0.05,0.06,0.07,0.08,0.09,0.1,0.2,0.3,0.4,0.5,0.6,0.7,0.8,0.9,1,2,3,4,5,6,7,8,9,10,20,30,40,50,60,70,80,90,100,200],
  "labelExpr": "datum.value == 0.01 ? '0.01' : datum.value == 0.1 ? '0.1' : datum.value == 1 ? '1' : datum.value == 10 ? '10' : datum.value == 100 ? '100' : ''",
  "tickSize": {"condition": {"test": "datum.value == 0.01 || datum.value == 0.1 || datum.value == 1 || datum.value == 10 || datum.value == 100", "value": 7}, "value": 4},
  "labelFont": "DejaVu Sans", "labelFontSize": 16, "labelPadding": 10,
  "title": "n", "titleFont": "Liberation Serif", "titleFontStyle": "italic", "titleFontSize": 21, "titleFontWeight": "normal",
  "titleX": 48, "titleY": 63, "titleAlign": "left", "titleBaseline": "alphabetic"}},
"y": {"field": "v", "type": "quantitative", "scale": {"domain": [0, 1], "nice": false},
 "axis": {"values": [0,0.1,0.2,0.3,0.4,0.5,0.6,0.7,0.8,0.9,1],
  "labelExpr": "datum.value == 0 ? '0.0' : datum.value == 0.5 ? '0.5' : datum.value == 1 ? '1.0' : ''",
  "tickSize": {"condition": {"test": "datum.value == 0 || datum.value == 0.5 || datum.value == 1", "value": 8}, "value": 5},
  "labelFont": "Liberation Serif", "labelFontSize": 18, "labelPadding": 5, "title": null}},
"color": {"field": "clay", "type": "nominal", "scale": {"domain": ["Kaolin", "Hue clay"], "range": ["#000000", "#ff0000"]},
 "legend": {"title": "(b) θ = 90ᵒ", "orient": "none", "legendX": 10, "legendY": 7}},
"detail": {"field": "g"}
},
"layer": [
{"mark": {"type": "line", "strokeWidth": 1.3},
 "encoding": {"strokeDash": {"field": "clay", "type": "nominal", "scale": {"domain": ["Kaolin", "Hue clay"], "range": [[1, 0], [2, 2]]},
  "legend": {"title": "(b) θ = 90ᵒ", "orient": "none", "legendX": 10, "legendY": 7}}}},
{"transform": [{"filter": "datum.n >= 5 && datum.clay === 'Kaolin'"}], "mark": {"type": "line", "strokeWidth": 4, "strokeCap": "round", "strokeJoin": "round"}},
{"transform": [{"filter": "datum.n >= 4 && datum.clay === 'Hue clay'"}], "mark": {"type": "line", "strokeWidth": 5.5, "strokeCap": "round", "strokeJoin": "round"}}
]
},
{"data": {"name": "arrows"}, "transform": [{"filter": "datum.p === 'b'"}],
 "mark": {"type": "rule", "color": "#000000", "strokeWidth": 1.1},
 "encoding": {"x": {"field": "x1", "type": "quantitative"}, "y": {"field": "y1", "type": "quantitative"}, "x2": {"field": "x2"}, "y2": {"field": "y2"}}},
{"data": {"name": "arrows"}, "transform": [{"filter": "datum.p === 'b'"}],
 "mark": {"type": "point", "shape": "triangle-right", "size": 40, "filled": true, "color": "#000000", "opacity": 1},
 "encoding": {"x": {"field": "x2", "type": "quantitative"}, "y": {"field": "y2", "type": "quantitative"}}},
{"data": {"name": "labels"}, "transform": [{"filter": "datum.p === 'b'"}],
 "mark": {"type": "text", "align": "right", "baseline": "alphabetic", "font": "DejaVu Sans", "fontSize": 18, "color": "#000000"},
 "encoding": {"x": {"field": "x", "type": "quantitative"}, "y": {"field": "y", "type": "quantitative"}, "text": {"field": "t"}}},
{"data": {"name": "labels"}, "transform": [{"filter": "datum.p === 'b'"}],
 "mark": {"type": "text", "text": "γ", "align": "right", "baseline": "alphabetic", "dx": -74, "font": "Liberation Serif", "fontStyle": "italic", "fontSize": 22, "color": "#000000"},
 "encoding": {"x": {"field": "x", "type": "quantitative"}, "y": {"field": "y", "type": "quantitative"}}}
]
}
],
"spacing": 63,
"bounds": "flush",
"resolve": {"scale": {"color": "independent", "strokeDash": "independent", "x": "independent", "y": "independent"}, "legend": {"color": "independent", "strokeDash": "independent"}},
"config": {
"view": {"stroke": "#000000", "strokeWidth": 1},
"axis": {"domainColor": "#000000", "domainWidth": 1, "tickColor": "#000000", "tickWidth": 1, "labelColor": "#000000", "titleColor": "#000000", "grid": false, "labelOverlap": false, "labelFlush": false, "labelBound": false},
"legend": {"symbolType": "M-1,0H3", "symbolSize": 256, "symbolStrokeWidth": 1.5, "symbolFillColor": "transparent", "titleFont": "DejaVu Sans", "titleFontSize": 18, "titleFontWeight": "normal", "titleColor": "#000000", "labelFont": "DejaVu Sans", "labelFontSize": 18, "labelColor": "#000000", "labelOffset": 20, "titlePadding": 6, "rowPadding": 2, "padding": 0, "titleLimit": 400, "labelLimit": 300}
}
}
